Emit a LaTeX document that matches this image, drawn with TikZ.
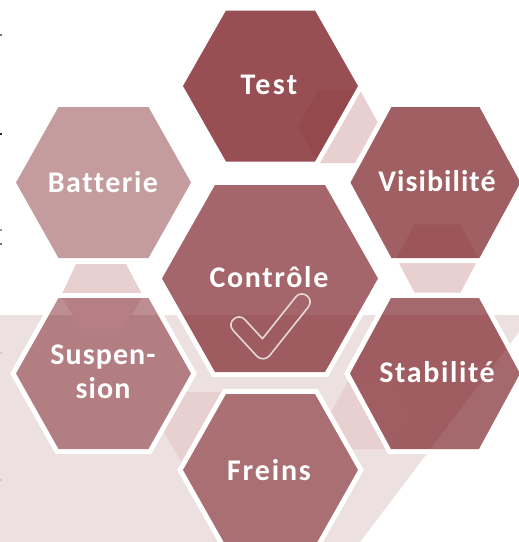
\documentclass[tikz,border=0pt]{standalone}
\usepackage{fontspec}
\newfontfamily\hexfont{Carlito}[BoldFont={Carlito Bold},Ligatures=NoCommon,Contextuals=NoAlternate]
\definecolor{hexbase}{RGB}{122,30,36}
\definecolor{backtint}{RGB}{236,224,225}
\definecolor{pinktint}{RGB}{232,208,209}
\definecolor{ticklight}{RGB}{229,216,216}
% centre x, centre y, half width, half height, half top edge
\newcommand\hexpts[5]{({#1-(#3)},#2) -- ({#1-(#5)},{#2-(#4)}) -- ({#1+(#5)},{#2-(#4)}) -- ({#1+(#3)},#2) -- ({#1+(#5)},{#2+(#4)}) -- ({#1-(#5)},{#2+(#4)}) -- cycle}
\newcommand\allpink{\hexpts{339}{126.5}{41}{36.5}{21} \hexpts{437.5}{258.5}{41}{34}{23}
  (76,264) -- (126,264) -- (143,296) -- (122,330) -- (82,330) -- (61,296) -- cycle
  \hexpts{202}{428.5}{40}{36.5}{19} \hexpts{370}{414}{40}{35}{21}}
% same five, then opacity
\newcommand\mainhex[6]{%
  \fill[white,even odd rule] \hexpts{#1}{#2}{#3+5.8}{#4+5}{#5+2.9} \hexpts{#1}{#2}{#3}{#4}{#5};
  \begin{scope}
    \clip \hexpts{#1}{#2}{#3}{#4}{#5};
    \fill[white,fill opacity=.4] \allpink;
  \end{scope}
  \fill[hexbase,fill opacity=#6] \hexpts{#1}{#2}{#3}{#4}{#5};
}
\tikzset{hexlabel/.style={text=white,font=\hexfont\bfseries\fontsize{30}{34}\selectfont,align=center,inner sep=0pt}}
\newcommand\spaced[2]{{\addfontfeature{LetterSpace=#1}#2}}
\begin{document}
\begin{tikzpicture}[x=1pt,y=-1pt]
\clip (0,0) rectangle (519,542);
\fill[white] (0,0) rectangle (519,542);
\fill[backtint] (0,315) -- (519,315) -- (519,332) -- (360,542) -- (0,542) -- cycle;
% small hexagons behind
\fill[pinktint] \allpink;
% main hexagons
\mainhex{270.5}{86}{87.5}{75.5}{44.5}{.78}
\mainhex{103.5}{182.5}{87.5}{75.5}{45}{.44}
\mainhex{435.5}{182.5}{85}{75.5}{44}{.71}
\mainhex{270}{278.5}{108}{93.5}{55}{.68}
\mainhex{103.5}{373.5}{87.5}{75.5}{45}{.5}
\mainhex{435}{373.5}{85}{75.5}{44}{.67}
\mainhex{270.5}{470}{87.5}{76}{44.5}{.58}
% check mark
\draw[ticklight,line width=1.6pt,line join=round]
  (262.5,338.7) -- (295.7,297) .. controls (302.3,288.7) and (314.9,298.7) .. (308.3,307)
  -- (269.3,356) .. controls (266.5,359.5) and (260.2,359.7) .. (257.1,356.4)
  -- (233.1,330.4) .. controls (225.9,322.6) and (237.7,311.8) .. (244.9,319.6) -- cycle;
% labels
\node[hexlabel] (test) at (269,85) {\spaced{8}{Test}};
\node[hexlabel] (batterie) at (103,182) {\spaced{5}{Batterie}};
\node[hexlabel] (visibilite) at (437,181) {\spaced{3.5}{Visibilité}};
\node[hexlabel] (controle) at (269,277) {\spaced{5.5}{Contrôle}};
\node[hexlabel] (suspension) at (103,372) {\spaced{3.5}{Suspen-}\\\spaced{3.5}{sion}};
\node[hexlabel] (stabilite) at (437,372) {\spaced{5.4}{Stabilité}};
\node[hexlabel] (freins) at (269,470) {\spaced{6.2}{Freins}};
% specks on the left edge
\fill[black!55] (0,34) rectangle (1.5,36);
\fill[black!85] (0,133) rectangle (2,135);
\fill[black!40] (0,229) rectangle (1.5,231);
\fill[black!55] (0,243) rectangle (1.5,245);
\fill[black!20] (0,352) rectangle (1.5,354);
\fill[black!20] (0,479) rectangle (1.5,481);
\end{tikzpicture}
\end{document}
